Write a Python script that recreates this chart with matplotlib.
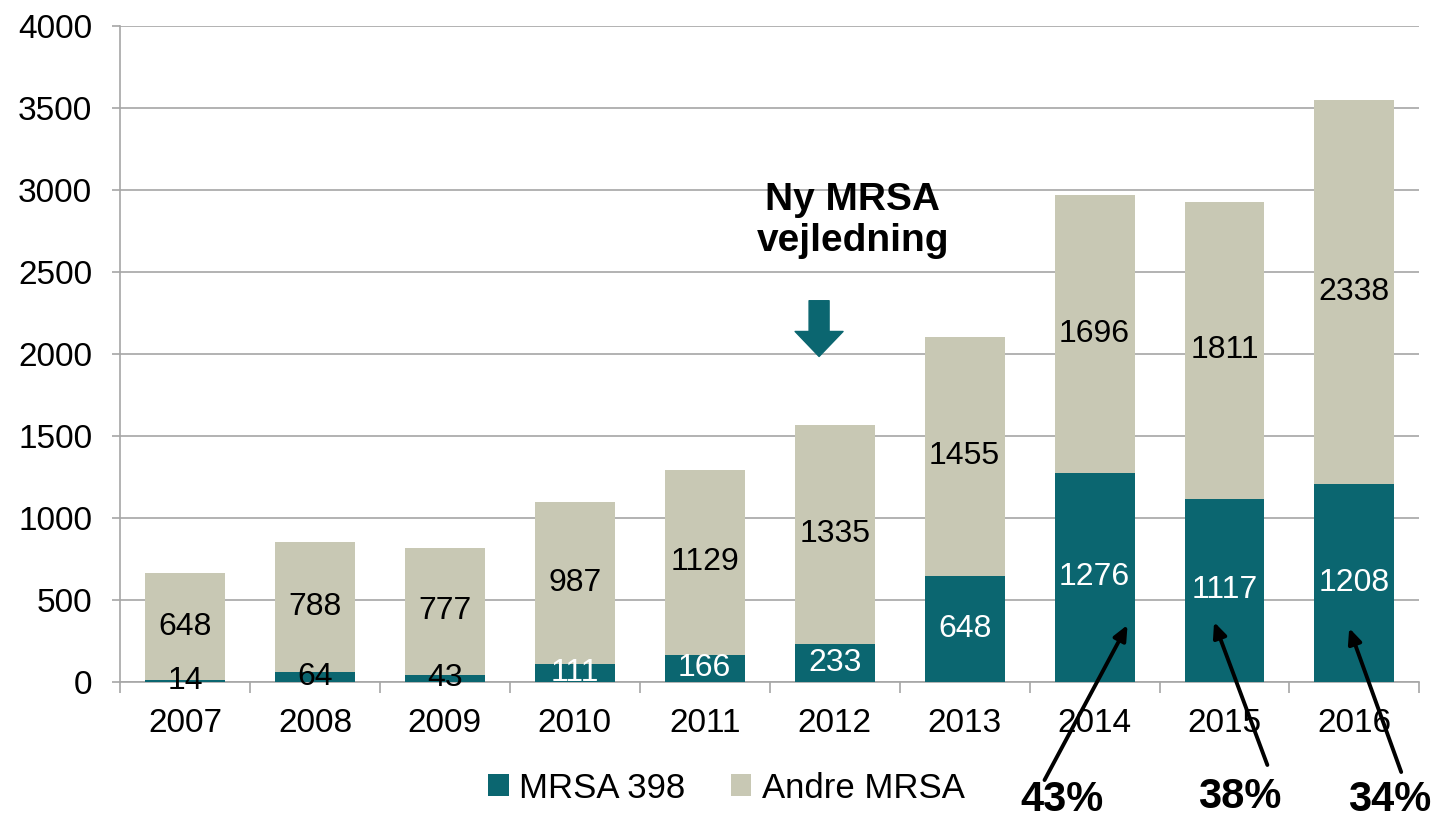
import matplotlib
matplotlib.use("Agg")
import matplotlib.pyplot as plt
import numpy as np

plt.rcParams['font.family'] = ['Liberation Sans', 'DejaVu Sans']

years = ['2007', '2008', '2009', '2010', '2011', '2012', '2013', '2014', '2015', '2016']
mrsa398 = [14, 64, 43, 111, 166, 233, 648, 1276, 1117, 1208]
andre = [648, 788, 777, 987, 1129, 1335, 1455, 1696, 1811, 2338]
pct_years = ['2014', '2015', '2016']
pct_labels = ['43%', '38%', '34%']

teal = '#0b6670'
beige = '#c8c8b4'
grid = '#a6a6a6'

fig = plt.figure(figsize=(14.41, 8.21), dpi=100)
ax = fig.add_axes([0.0833, 0.1693, 0.9017, 0.7990])

x = np.arange(len(years))
w = 0.615
b1 = ax.bar(x, mrsa398, w, color=teal, label='MRSA 398', zorder=3)
b2 = ax.bar(x, andre, w, bottom=mrsa398, color=beige, label='Andre MRSA', zorder=3)

for i in range(len(years)):
    c = 'black' if mrsa398[i] < 100 else 'white'
    ax.text(x[i], mrsa398[i] / 2, str(mrsa398[i]), ha='center', va='center',
            fontsize=23, color=c, zorder=5)
    ax.text(x[i], mrsa398[i] + andre[i] / 2, str(andre[i]), ha='center', va='center',
            fontsize=23, color='black', zorder=5)

ax.set_xlim(-0.5, len(years) - 0.5)
ax.set_ylim(0, 4000)
ax.set_yticks(np.arange(0, 4001, 500))
ax.set_xticks(x)
ax.set_xticklabels(years)
ax.set_xticks(np.arange(-0.5, len(years), 1), minor=True)
ax.tick_params(axis='x', which='major', length=0, pad=19, labelsize=24)
ax.tick_params(axis='x', which='minor', length=8, color=grid, width=1.2)
ax.tick_params(axis='y', length=6, color=grid, width=1.2, labelsize=24, pad=14)
ax.yaxis.grid(True, color=grid, linewidth=1.2, zorder=0)
for s in ['top', 'right']:
    ax.spines[s].set_visible(False)
for s in ['left', 'bottom']:
    ax.spines[s].set_color(grid)
    ax.spines[s].set_linewidth(1.2)

# Ny MRSA vejledning annotation
ax.text(5.14, 2815, 'Ny MRSA\nvejledning', ha='center', va='center', fontsize=28,
        fontweight='bold', linespacing=1.2, zorder=6)
ax.annotate('', xy=(4.88, 1985), xytext=(4.88, 2325),
            arrowprops=dict(arrowstyle='simple,head_length=1.8,head_width=3.45,tail_width=1.44',
                            mutation_scale=10, color=teal, shrinkA=0, shrinkB=0), zorder=6)

# percentage arrows
tails = [(6.615, -598), (8.33, -506), (9.36, -549)]
heads = [(7.254, 348), (7.92, 366), (8.96, 329)]
txtpos = [(6.75, -720), (8.115, -701), (9.27, -720)]
for lab, t, h, p in zip(pct_labels, tails, heads, txtpos):
    ax.annotate('', xy=h, xytext=t, annotation_clip=False,
                arrowprops=dict(arrowstyle='-|>,head_length=0.9,head_width=0.4',
                                color='black', lw=2.8, shrinkA=0, shrinkB=0), zorder=7)
    ax.text(p[0], p[1], lab, ha='center', va='center', fontsize=30, fontweight='bold',
            clip_on=False, zorder=7)

fig.legend(handles=[b1, b2], loc='center', bbox_to_anchor=(0.504, 0.04), ncol=2,
           frameon=False, fontsize=25, handlelength=0.6, handleheight=0.6,
           columnspacing=1.3, handletextpad=0.3, borderpad=0)

fig.savefig('out.png', dpi=100)
